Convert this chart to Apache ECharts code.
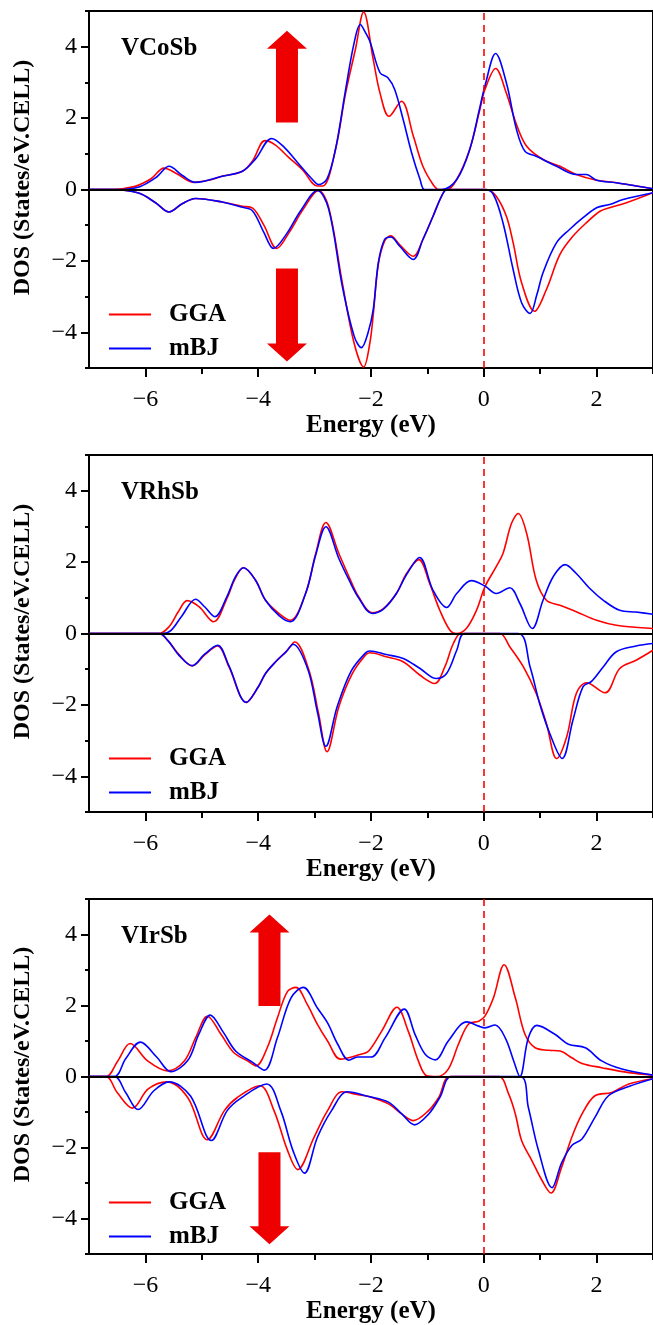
<!DOCTYPE html>
<html>
<head>
<meta charset="utf-8">
<title>DOS VCoSb / VRhSb / VIrSb</title>
<script src="https://cdn.jsdelivr.net/npm/echarts@6/dist/echarts.min.js"></script>
<style>
  html, body { margin: 0; padding: 0; background: #fff; }
  #main { width: 653px; height: 1325px; }
</style>
</head>
<body>
<div id="main"></div>
<script>
// compound names, one per panel
const compounds = ['VCoSb', 'VRhSb', 'VIrSb'];

// tick values
const xMajorTicks = [-6, -4, -2, 0, 2];
const xMinorTicks = [-5, -3, -1, 1, 3];
const yMajorTicks = [-4, -2, 0, 2, 4];
const yMinorTicks = [-5, -3, -1, 1, 3, 5];

// [energy, DOS]
// VCoSb
const coGgaUp = [[-7,0],[-6.6,0],[-6.2,0.08],[-5.9,0.3],[-5.67,0.6],[-5.45,0.45],[-5.15,0.2],[-4.9,0.25],[-4.64,0.37],[-4.28,0.51],[-4.1,0.8],[-3.88,1.37],[-3.7,1.25],[-3.46,0.9],[-3.22,0.56],[-2.95,0.1],[-2.85,0.1],[-2.63,1.12],[-2.45,2.7],[-2.28,3.9],[-2.13,4.97],[-1.96,3.64],[-1.84,2.7],[-1.68,2.05],[-1.46,2.47],[-1.25,1.5],[-1.08,0.65],[-0.9,0.14],[-0.8,0],[-0.65,0],[-0.48,0.28],[-0.25,1.12],[-0.07,2.24],[0.02,2.8],[0.21,3.39],[0.4,2.7],[0.58,1.82],[0.76,1.21],[1.05,0.84],[1.35,0.65],[1.64,0.42],[2.0,0.26],[2.35,0.19],[2.7,0.1],[3,0.02]];
const coMbjUp = [[-7,0],[-6.5,0],[-6.1,0.08],[-5.8,0.35],[-5.58,0.65],[-5.35,0.4],[-5.11,0.2],[-4.64,0.37],[-4.28,0.51],[-4.05,0.85],[-3.76,1.43],[-3.55,1.2],[-3.3,0.75],[-3.05,0.3],[-2.93,0.14],[-2.78,0.3],[-2.63,1.12],[-2.45,2.8],[-2.3,4.1],[-2.19,4.62],[-2.1,4.4],[-2.02,4.15],[-1.84,3.27],[-1.7,3.13],[-1.58,2.8],[-1.43,1.96],[-1.28,1.03],[-1.13,0.28],[-1.05,0],[-0.75,0],[-0.48,0.28],[-0.25,1.12],[-0.07,2.3],[0.02,2.9],[0.21,3.81],[0.4,2.99],[0.58,1.68],[0.73,1.07],[0.93,0.93],[1.29,0.65],[1.64,0.42],[1.82,0.42],[2.0,0.26],[2.35,0.19],[2.7,0.1],[3,0.02]];
const coGgaDown = [[-7,0],[-6.6,0],[-6.12,-0.1],[-5.82,-0.37],[-5.58,-0.63],[-5.35,-0.4],[-5.11,-0.25],[-4.64,-0.35],[-4.28,-0.47],[-4.1,-0.52],[-3.9,-1.0],[-3.67,-1.65],[-3.45,-1.2],[-3.2,-0.55],[-2.93,-0.03],[-2.75,-0.5],[-2.51,-2.6],[-2.3,-4.3],[-2.13,-4.97],[-2.02,-4.3],[-1.96,-3.5],[-1.87,-2.1],[-1.76,-1.45],[-1.65,-1.3],[-1.49,-1.55],[-1.25,-1.87],[-1.08,-1.4],[-0.9,-0.75],[-0.75,-0.19],[-0.65,0],[0.05,0],[0.22,-0.19],[0.4,-0.75],[0.52,-1.49],[0.67,-2.61],[0.9,-3.41],[1.11,-2.8],[1.35,-1.82],[1.58,-1.31],[1.82,-0.93],[2.06,-0.61],[2.23,-0.51],[2.53,-0.37],[3,-0.09]];
const coMbjDown = [[-7,0],[-6.6,0],[-6.12,-0.1],[-5.82,-0.37],[-5.58,-0.63],[-5.35,-0.4],[-5.11,-0.25],[-4.64,-0.35],[-4.28,-0.5],[-4.1,-0.6],[-3.9,-1.2],[-3.73,-1.65],[-3.5,-1.25],[-3.25,-0.6],[-2.95,-0.03],[-2.75,-0.55],[-2.51,-2.7],[-2.3,-4.1],[-2.17,-4.43],[-2.05,-4.0],[-1.96,-3.36],[-1.87,-2.05],[-1.76,-1.4],[-1.65,-1.33],[-1.49,-1.59],[-1.25,-1.96],[-1.08,-1.4],[-0.9,-0.75],[-0.75,-0.19],[-0.65,0],[0.02,0],[0.17,-0.14],[0.34,-0.93],[0.52,-2.24],[0.67,-3.17],[0.82,-3.47],[0.94,-2.95],[1.05,-2.33],[1.29,-1.49],[1.52,-1.12],[1.76,-0.79],[2.0,-0.51],[2.23,-0.42],[2.47,-0.28],[3,-0.09]];

// VRhSb
const rhGgaUp = [[-7,0],[-5.76,0],[-5.58,0.19],[-5.42,0.6],[-5.26,0.92],[-5.05,0.75],[-4.79,0.33],[-4.55,1.0],[-4.42,1.5],[-4.26,1.84],[-4.05,1.5],[-3.87,0.93],[-3.63,0.56],[-3.43,0.37],[-3.16,1.12],[-2.98,2.24],[-2.8,3.11],[-2.57,2.24],[-2.39,1.59],[-2.22,1.03],[-1.98,0.58],[-1.78,0.7],[-1.55,1.12],[-1.37,1.68],[-1.15,2.07],[-0.96,1.4],[-0.78,0.65],[-0.6,0.09],[-0.48,0],[-0.31,0.14],[-0.13,0.65],[0.02,1.31],[0.22,1.87],[0.34,2.24],[0.49,3.08],[0.61,3.36],[0.76,2.8],[0.93,1.49],[1.11,0.93],[1.35,0.79],[1.64,0.61],[2.0,0.37],[2.35,0.23],[3,0.14]];
const rhMbjUp = [[-7,0],[-5.7,0],[-5.55,0.08],[-5.35,0.5],[-5.11,0.96],[-4.95,0.75],[-4.77,0.47],[-4.55,1.05],[-4.4,1.6],[-4.26,1.84],[-4.05,1.5],[-3.87,0.93],[-3.63,0.5],[-3.43,0.33],[-3.16,1.12],[-2.98,2.2],[-2.8,2.99],[-2.57,2.1],[-2.39,1.5],[-2.22,1.0],[-1.98,0.56],[-1.78,0.68],[-1.55,1.12],[-1.37,1.65],[-1.14,2.13],[-0.9,1.21],[-0.66,0.73],[-0.48,1.12],[-0.22,1.48],[0.02,1.33],[0.22,1.12],[0.46,1.28],[0.64,0.84],[0.86,0.14],[1.05,0.93],[1.23,1.59],[1.44,1.93],[1.64,1.68],[1.88,1.26],[2.12,0.93],[2.41,0.65],[2.7,0.6],[3,0.54]];
const rhGgaDown = [[-7,0],[-5.76,0],[-5.6,-0.2],[-5.4,-0.6],[-5.17,-0.91],[-4.95,-0.6],[-4.72,-0.35],[-4.52,-0.93],[-4.21,-1.93],[-4.0,-1.5],[-3.87,-1.12],[-3.69,-0.79],[-3.5,-0.5],[-3.35,-0.24],[-3.1,-1.03],[-2.93,-2.24],[-2.78,-3.31],[-2.57,-2.05],[-2.33,-1.12],[-2.1,-0.61],[-2.02,-0.54],[-1.73,-0.65],[-1.43,-0.79],[-1.13,-1.17],[-0.87,-1.4],[-0.69,-0.93],[-0.54,-0.28],[-0.4,0],[0.28,0],[0.46,-0.37],[0.7,-0.93],[0.93,-1.68],[1.11,-2.52],[1.29,-3.5],[1.47,-2.89],[1.64,-1.68],[1.82,-1.38],[2.15,-1.66],[2.41,-0.98],[2.7,-0.75],[3,-0.47]];
const rhMbjDown = [[-7,0],[-5.76,0],[-5.6,-0.2],[-5.4,-0.62],[-5.17,-0.9],[-4.95,-0.58],[-4.72,-0.33],[-4.52,-0.9],[-4.21,-1.93],[-4.0,-1.5],[-3.87,-1.12],[-3.69,-0.79],[-3.5,-0.5],[-3.38,-0.3],[-3.12,-1.0],[-2.95,-2.2],[-2.8,-3.16],[-2.6,-2.05],[-2.35,-1.05],[-2.1,-0.55],[-2.02,-0.49],[-1.73,-0.59],[-1.43,-0.7],[-1.13,-0.98],[-0.84,-1.26],[-0.66,-1.12],[-0.48,-0.47],[-0.34,0],[0.61,0],[0.82,-0.93],[0.99,-1.96],[1.17,-2.8],[1.39,-3.5],[1.58,-2.43],[1.76,-1.49],[1.91,-1.34],[2.12,-0.93],[2.35,-0.51],[2.7,-0.35],[3,-0.28]];

// VIrSb
const irGgaUp = [[-7,0],[-6.7,0],[-6.49,0.44],[-6.27,0.93],[-5.96,0.44],[-5.61,0.16],[-5.31,0.44],[-5.11,1.09],[-4.9,1.7],[-4.66,1.19],[-4.43,0.67],[-4.19,0.44],[-4.04,0.3],[-3.84,0.81],[-3.66,1.65],[-3.48,2.4],[-3.33,2.51],[-3.13,2.03],[-2.95,1.47],[-2.77,1.0],[-2.54,0.49],[-2.18,0.63],[-2.04,0.72],[-1.81,1.28],[-1.54,1.95],[-1.34,1.28],[-1.16,0.44],[-1.01,0.02],[-0.83,0],[-0.63,0.21],[-0.45,0.91],[-0.27,1.48],[-0.09,1.56],[0.02,1.7],[0.17,2.21],[0.36,3.15],[0.56,2.21],[0.73,1.19],[0.91,0.81],[1.15,0.74],[1.35,0.72],[1.56,0.53],[1.74,0.37],[2.09,0.25],[2.57,0.11],[3,0.04]];
const irMbjUp = [[-7,0],[-6.55,0],[-6.35,0.5],[-6.09,0.97],[-5.8,0.55],[-5.55,0.14],[-5.25,0.45],[-5.05,1.2],[-4.85,1.73],[-4.62,1.25],[-4.4,0.72],[-4.1,0.4],[-3.89,0.18],[-3.66,1.09],[-3.42,2.21],[-3.2,2.51],[-2.95,1.93],[-2.77,1.51],[-2.59,0.91],[-2.39,0.46],[-2.24,0.55],[-2.0,0.55],[-1.75,1.09],[-1.41,1.9],[-1.22,1.19],[-1.04,0.63],[-0.86,0.47],[-0.63,1.0],[-0.3,1.54],[-0.09,1.42],[0.02,1.37],[0.2,1.45],[0.38,1.09],[0.53,0.44],[0.64,0],[0.79,1.09],[0.94,1.44],[1.26,1.19],[1.5,0.91],[1.8,0.81],[2.09,0.44],[2.45,0.21],[3,0.04]];
const irGgaDown = [[-7,0],[-6.7,0],[-6.5,-0.45],[-6.23,-0.89],[-5.95,-0.35],[-5.62,-0.15],[-5.25,-0.59],[-4.9,-1.78],[-4.6,-0.96],[-4.37,-0.59],[-3.97,-0.26],[-3.72,-0.96],[-3.48,-2.08],[-3.3,-2.62],[-3.01,-1.71],[-2.77,-0.96],[-2.51,-0.43],[-2.2,-0.52],[-2.04,-0.56],[-1.69,-0.77],[-1.45,-1.06],[-1.25,-1.24],[-0.98,-0.96],[-0.8,-0.59],[-0.6,0],[0.26,0],[0.44,-0.49],[0.56,-1.06],[0.67,-1.8],[0.85,-2.36],[1.03,-2.92],[1.19,-3.28],[1.38,-2.55],[1.56,-1.71],[1.74,-1.06],[1.97,-0.54],[2.27,-0.45],[2.57,-0.21],[3,-0.06]];
const irMbjDown = [[-7,0],[-6.55,0],[-6.35,-0.45],[-6.13,-0.93],[-5.85,-0.4],[-5.58,-0.15],[-5.2,-0.55],[-4.83,-1.8],[-4.55,-0.96],[-4.3,-0.6],[-3.85,-0.21],[-3.6,-0.96],[-3.38,-2.1],[-3.18,-2.72],[-2.95,-1.71],[-2.7,-0.96],[-2.42,-0.43],[-2.04,-0.56],[-1.69,-0.72],[-1.45,-1.06],[-1.23,-1.36],[-0.98,-1.06],[-0.78,-0.59],[-0.57,0],[0.64,0],[0.79,-0.87],[0.97,-2.08],[1.21,-3.13],[1.38,-2.43],[1.56,-1.94],[1.74,-1.76],[1.97,-1.15],[2.21,-0.54],[2.57,-0.28],[3,-0.06]];

// spin arrows: [energy, tail DOS, tip DOS]
const coArrows = [[-3.49, 1.88, 4.45], [-3.49, -2.21, -4.82]];
const irArrows = [[-3.8, 1.99, 4.56], [-3.8, -2.13, -4.72]];

const panels = [
  { ggaUp: coGgaUp, mbjUp: coMbjUp, ggaDown: coGgaDown, mbjDown: coMbjDown, arrows: coArrows },
  { ggaUp: rhGgaUp, mbjUp: rhMbjUp, ggaDown: rhGgaDown, mbjDown: rhMbjDown, arrows: [] },
  { ggaUp: irGgaUp, mbjUp: irMbjUp, ggaDown: irGgaDown, mbjDown: irMbjDown, arrows: irArrows }
];

var chartDom = document.getElementById('main');
var myChart = echarts.init(chartDom);
var option;

const FONT = '"Liberation Serif", "Times New Roman", serif';
const RED = '#ff0000';
const BLUE = '#0000ff';
const gridTops = [11, 455, 899];
const gridH = 357;
const minus = v => String(v).replace('-', '\u2212');

const grid = [], xAxis = [], yAxis = [], series = [], legend = [], title = [];

panels.forEach((p, i) => {
  const top = gridTops[i];
  grid.push({
    left: 89, top: top, width: 565, height: gridH,
    show: true, borderColor: '#000', borderWidth: 2, backgroundColor: 'transparent'
  });

  xAxis.push({
    gridIndex: i, type: 'value', min: -7, max: 3, position: 'bottom',
    axisLine: { show: true, onZero: false, lineStyle: { color: '#000', width: 2 } },
    axisTick: { show: true, customValues: xMajorTicks, length: 9, lineStyle: { color: '#000', width: 2 } },
    axisLabel: { customValues: xMajorTicks, formatter: minus, color: '#000', fontFamily: FONT, fontSize: 24, margin: 20 },
    splitLine: { show: false },
    name: 'Energy (eV)', nameLocation: 'middle', nameGap: 43,
    nameTextStyle: { color: '#000', fontFamily: FONT, fontSize: 25, fontWeight: 'bold' }
  });
  xAxis.push({
    gridIndex: i, type: 'value', min: -7, max: 3, position: 'bottom',
    axisLine: { show: false, onZero: false },
    axisTick: { show: true, customValues: xMinorTicks, length: 6, lineStyle: { color: '#000', width: 2 } },
    axisLabel: { show: false }, splitLine: { show: false }
  });

  yAxis.push({
    gridIndex: i, type: 'value', min: -5, max: 5, position: 'left',
    axisLine: { show: true, onZero: false, lineStyle: { color: '#000', width: 2 } },
    axisTick: { show: true, customValues: yMajorTicks, length: 8, lineStyle: { color: '#000', width: 2 } },
    axisLabel: { customValues: yMajorTicks, formatter: minus, color: '#000', fontFamily: FONT, fontSize: 24, margin: 12 },
    splitLine: { show: false },
    name: 'DOS (States/eV.CELL)', nameLocation: 'middle', nameGap: 54,
    nameTextStyle: { color: '#000', fontFamily: FONT, fontSize: 24, fontWeight: 'bold', padding: [0, 0, 0, 24] }
  });
  yAxis.push({
    gridIndex: i, type: 'value', min: -5, max: 5, position: 'left',
    axisLine: { show: false, onZero: false },
    axisTick: { show: true, customValues: yMinorTicks, length: 4, lineStyle: { color: '#000', width: 2 } },
    axisLabel: { show: false }, splitLine: { show: false }
  });

  const xi = 2 * i, yi = 2 * i;
  const line = (name, color, data) => ({
    name: name, type: 'line', xAxisIndex: xi, yAxisIndex: yi, data: data,
    smooth: 0.35, symbol: 'none', lineStyle: { color: color, width: 1.6 }, itemStyle: { color: color },
    animation: false
  });
  series.push(line('GGA', RED, p.ggaUp));
  series.push(line('GGA', RED, p.ggaDown));
  series.push(line('mBJ', BLUE, p.mbjUp));
  const last = line('mBJ', BLUE, p.mbjDown);
  last.markLine = {
    silent: true, symbol: 'none', label: { show: false }, animation: false,
    data: [
      { yAxis: 0, lineStyle: { color: '#000', width: 2, type: 'solid' } },
      { xAxis: 0, lineStyle: { color: RED, width: 1.6, type: [7, 5] } }
    ]
  };
  series.push(last);

  if (p.arrows.length) {
    series.push({
      type: 'custom', xAxisIndex: xi, yAxisIndex: yi, data: p.arrows, animation: false, silent: true,
      encode: { x: 0, y: 1 },
      renderItem: function (params, api) {
        const tail = api.coord([api.value(0), api.value(1)]);
        const tip = api.coord([api.value(0), api.value(2)]);
        const dir = tip[1] < tail[1] ? -1 : 1;
        const headLen = 18, shaft = 11, head = 20;
        const baseY = tip[1] - dir * headLen;
        const cx = tail[0];
        return {
          type: 'polygon',
          shape: { points: [
            [cx - shaft, tail[1]], [cx - shaft, baseY], [cx - head, baseY], [tip[0], tip[1]],
            [cx + head, baseY], [cx + shaft, baseY], [cx + shaft, tail[1]]
          ] },
          style: { fill: '#ee0000' }
        };
      }
    });
  }

  // legend icon is a thin bar so it reads as a plain line
  legend.push({
    orient: 'vertical', left: 104, top: top + 286, data: ['GGA', 'mBJ'],
    icon: 'rect', itemWidth: 42, itemHeight: 2, itemGap: 9, selectedMode: false,
    textStyle: { color: '#000', fontFamily: FONT, fontSize: 25, fontWeight: 'bold', lineHeight: 22, padding: [0, 0, 0, 13] }
  });

  title.push({
    text: compounds[i], left: 116, top: top + 20,
    textStyle: { color: '#000', fontFamily: FONT, fontSize: 25, fontWeight: 'bold' }
  });
});

option = {
  backgroundColor: '#fff',
  animation: false,
  title: title,
  legend: legend,
  grid: grid,
  xAxis: xAxis,
  yAxis: yAxis,
  series: series
};
option && myChart.setOption(option);
</script>
</body>
</html>
